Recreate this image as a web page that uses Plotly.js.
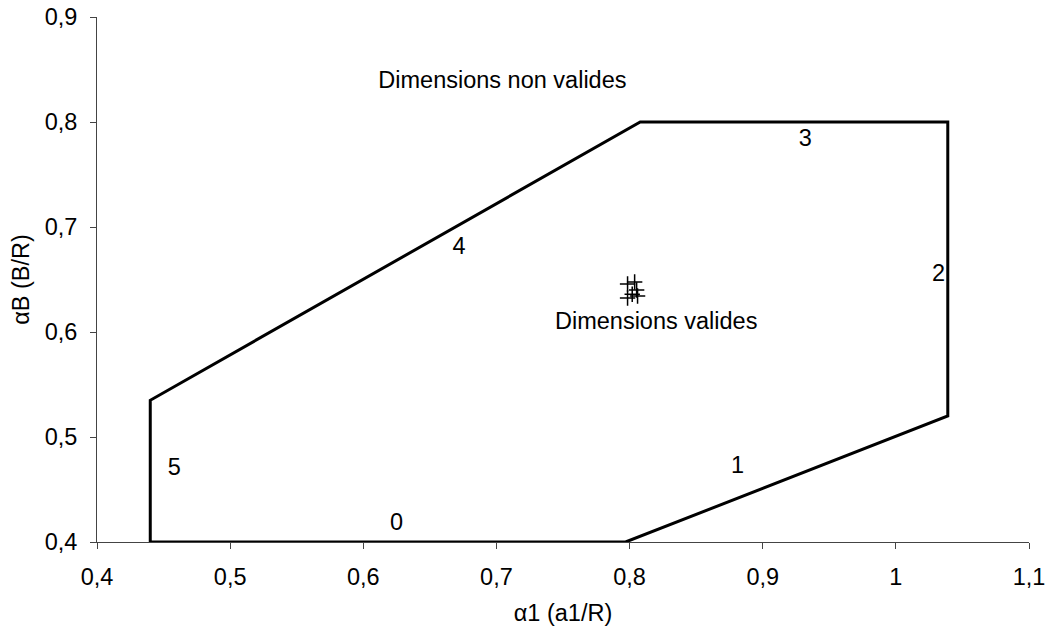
<!DOCTYPE html>
<html>
<head>
<meta charset="utf-8">
<script src="https://cdn.plot.ly/plotly-3.0.1.min.js"></script>
<style>html,body{margin:0;padding:0;background:#fff;}#chart{width:1046px;height:632px;}</style>
</head>
<body>
<div id="chart"></div>
<script>
// Boundary polygon of valid dimensions
var boundaryX = [0.44, 0.44, 0.808, 1.039, 1.039, 0.797, 0.44];
var boundaryY = [0.4, 0.535, 0.8, 0.8, 0.52, 0.4, 0.4];

// Edge labels
var edgeLabels = ["0", "1", "2", "3", "4", "5"];
var edgeLabelX = [0.625, 0.881, 1.032, 0.932, 0.672, 0.458];
var edgeLabelY = [0.417, 0.471, 0.654, 0.783, 0.68, 0.469];

// Region labels
var regionLabels = ["Dimensions non valides", "Dimensions valides"];
var regionLabelX = [0.7045, 0.82];
var regionLabelY = [0.838, 0.608];

// Design points
var pointX = [0.7985, 0.8038, 0.8053, 0.806, 0.7985, 0.802];
var pointY = [0.6457, 0.6476, 0.640, 0.6343, 0.6324, 0.636];

var font = {family: "Liberation Sans, Arial, sans-serif", size: 23.5, color: "#000"};

var traces = [
  {x: boundaryX, y: boundaryY, mode: "lines", type: "scatter",
   line: {color: "#000", width: 3}, cliponaxis: false, hoverinfo: "skip"},
  {x: pointX, y: pointY, mode: "markers", type: "scatter",
   marker: {symbol: "cross-thin-open", size: 11, color: "#000", line: {color: "#000", width: 1.5}}},
  {x: edgeLabelX, y: edgeLabelY, mode: "text", type: "scatter",
   text: edgeLabels, textposition: "middle center", textfont: font, cliponaxis: false},
  {x: regionLabelX, y: regionLabelY, mode: "text", type: "scatter",
   text: regionLabels, textposition: "middle center", textfont: font, cliponaxis: false}
];

var layout = {
  width: 1046, height: 632,
  margin: {l: 97, r: 17, t: 17, b: 90},
  paper_bgcolor: "#fff", plot_bgcolor: "#fff",
  showlegend: false,
  separators: ", ",
  font: font,
  xaxis: {
    range: [0.4, 1.1], dtick: 0.1, tick0: 0.4, showgrid: false, zeroline: false,
    showline: true, linecolor: "#444", linewidth: 1,
    ticks: "outside", ticklen: 6, tickcolor: "#444",
    tickfont: font, ticklabelstandoff: 8,
    title: {text: "α1 (a1/R)", font: font, standoff: 15}
  },
  yaxis: {
    range: [0.4, 0.9], dtick: 0.1, tick0: 0.4, showgrid: false, zeroline: false,
    showline: true, linecolor: "#444", linewidth: 1,
    ticks: "outside", ticklen: 6, tickcolor: "#444",
    tickfont: font, ticklabelstandoff: 8,
    title: {text: "αB (B/R)", font: font, standoff: 8}
  }
};

Plotly.newPlot("chart", traces, layout, {displayModeBar: false, staticPlot: true});
</script>
</body>
</html>
